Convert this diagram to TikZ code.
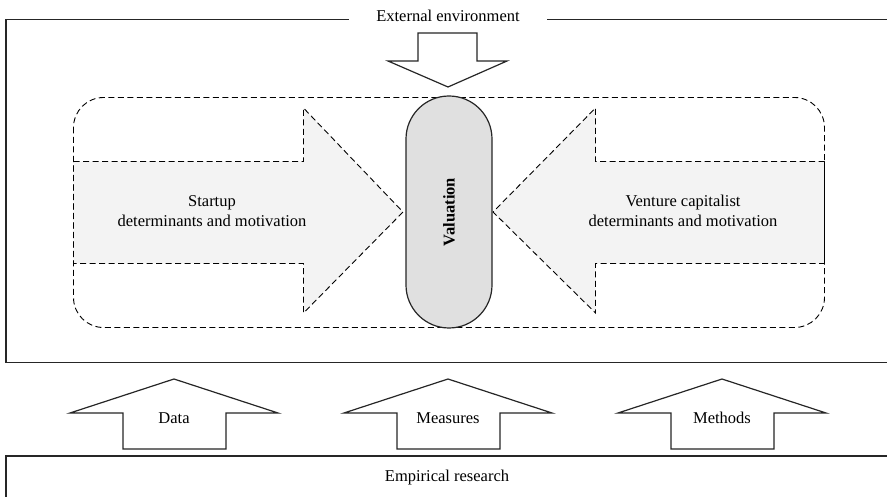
\documentclass[tikz,border=0pt]{standalone}
\usepackage{fontspec}
\setmainfont{Liberation Serif}
\usetikzlibrary{positioning}

\definecolor{arrowgray}{HTML}{F3F3F3}
\definecolor{pillgray}{HTML}{E0E0E0}

\begin{document}
\begin{tikzpicture}[x=1pt, y=-1pt,
    every node/.style={font=\fontsize{16.5}{20}\selectfont},
    frame/.style={draw=black!85, line width=1.2pt},
    dashline/.style={draw=black, line width=0.9pt, dash pattern=on 6pt off 3.5pt},
    flatarrow/.style={frame, fill=white, line join=miter},
    bigarrow/.style={dashline, fill=arrowgray},
    pill/.style={frame, fill=pillgray, rounded corners=43pt,
      minimum width=232pt, minimum height=86pt, inner sep=0pt, rotate=90,
      font=\fontsize{16.5}{20}\selectfont\bfseries}]
  \useasboundingbox (0,0) rectangle (887,497);

  % outer frame and the bottom strip
  \draw[frame] (887,19.5) -- (6,19.5) -- (6,362.5) -- (887,362.5);
  \draw[frame] (887,456) -- (6,456) -- (6,497);
  \node[fill=white, inner xsep=27pt, inner ysep=1pt] (ext) at (448,16) {External environment};
  \node (emp) at (447,478) {Empirical research};

  % dashed area
  \draw[bigarrow] (73.5,161.5) -- (303.5,161.5) -- (303.5,108) -- (403,212)
    -- (303.5,313) -- (303.5,263.5) -- (73.5,263.5) -- cycle;
  \draw[bigarrow] (824.5,161.5) -- (595.5,161.5) -- (595.5,108) -- (493,212)
    -- (595.5,313) -- (595.5,263.5) -- (824.5,263.5) -- cycle;
  \draw[dashline, rounded corners=30pt] (73.5,97.5) rectangle (824.5,327.5);

  \node[align=center] (startup) at (212,211) {Startup\\determinants and motivation};
  \node[align=center] (vc) at (683,211) {Venture capitalist\\determinants and motivation};
  \node[pill] (val) at (449,212) {Valuation};

  % external environment arrow
  \draw[flatarrow] (418,33) -- (477,33) -- (477,61) -- (507,61) -- (448,87)
    -- (388,61) -- (418,61) -- cycle;

  % research arrows
  \foreach \cx/\name/\lbl in {174/data/Data, 448/meas/Measures, 722/meth/Methods}{
    \draw[flatarrow] (\cx,379) -- (\cx+104,413) -- (\cx+52,413) -- (\cx+52,449)
      -- (\cx-51,449) -- (\cx-51,413) -- (\cx-104,413) -- cycle;
    \node (\name) at (\cx,418) {\lbl};
  }
\end{tikzpicture}
\end{document}
